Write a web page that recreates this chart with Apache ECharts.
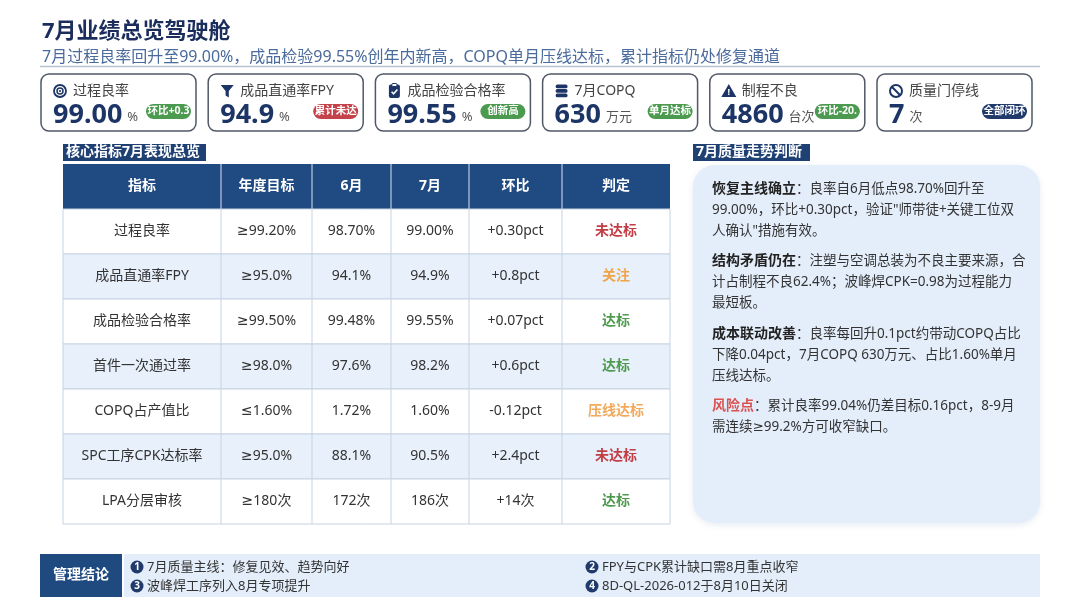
<!DOCTYPE html>
<html lang="zh">
<head>
<meta charset="UTF-8">
<title>7月业绩总览驾驶舱</title>
<script src="https://cdn.jsdelivr.net/npm/echarts@6/dist/echarts.min.js"></script>
<style>
  html, body { margin: 0; padding: 0; background: #fff; }
  #main { width: 1080px; height: 608px; }
</style>
</head>
<body>
<div id="main"></div>
<script type="text/javascript">
// KPI 卡片
var kpiNames = ['过程良率', '成品直通率FPY', '成品检验合格率', '7月COPQ', '制程不良', '质量门停线'];
var kpiValues = ['99.00', '94.9', '99.55', '630', '4860', '7'];
var kpiUnits = ['%', '%', '%', '万元', '台次', '次'];
var kpiBadges = ['环比+0.30pct', '累计未达', '创新高', '单月达标', '环比-20.9%', '全部闭环'];
var kpiBadgeTone = ['good', 'bad', 'good', 'good', 'good', 'done'];

// 核心指标表
var colHeads = ['指标', '年度目标', '6月', '7月', '环比', '判定'];
var metricNames = ['过程良率', '成品直通率FPY', '成品检验合格率', '首件一次通过率', 'COPQ占产值比', 'SPC工序CPK达标率', 'LPA分层审核'];
var targets = ['≥99.20%', '≥95.0%', '≥99.50%', '≥98.0%', '≤1.60%', '≥95.0%', '≥180次'];
var juneVals = ['98.70%', '94.1%', '99.48%', '97.6%', '1.72%', '88.1%', '172次'];
var julyVals = ['99.00%', '94.9%', '99.55%', '98.2%', '1.60%', '90.5%', '186次'];
var momVals = ['+0.30pct', '+0.8pct', '+0.07pct', '+0.6pct', '-0.12pct', '+2.4pct', '+14次'];
var verdicts = ['未达标', '关注', '达标', '达标', '压线达标', '未达标', '达标'];

// 走势判断
var noteHeads = ['恢复主线确立', '结构矛盾仍在', '成本联动改善', '风险点'];
var noteLines = [
  ['：良率自6月低点98.70%回升至', '99.00%，环比+0.30pct，验证"师带徒+关键工位双', '人确认"措施有效。'],
  ['：注塑与空调总装为不良主要来源，合', '计占制程不良62.4%；波峰焊CPK=0.98为过程能力', '最短板。'],
  ['：良率每回升0.1pct约带动COPQ占比', '下降0.04pct，7月COPQ 630万元、占比1.60%单月', '压线达标。'],
  ['：累计良率99.04%仍差目标0.16pct，8-9月', '需连续≥99.2%方可收窄缺口。']
];

// 管理结论
var conclusions = ['7月质量主线：修复见效、趋势向好', 'FPY与CPK累计缺口需8月重点收窄', '波峰焊工序列入8月专项提升', '8D-QL-2026-012于8月10日关闭'];

var FONT = '"Noto Sans", "DejaVu Sans", "Noto Sans CJK SC", sans-serif';
var NAVY = '#1c3566';
var HEAD_BLUE = '#1f4a82';
var toneColor = { good: '#4b9a4f', bad: '#c4434a', done: '#1f3a6b' };
var verdictColor = { '未达标': '#c23d45', '关注': '#f0a448', '达标': '#4f9a4f', '压线达标': '#f2a95c' };

var els = [];

function txt(x, y, s, font, fill, align, extra) {
  var st = { text: s, font: font, fill: fill, align: align || 'left', verticalAlign: 'middle' };
  if (extra) for (var k in extra) st[k] = extra[k];
  els.push({ type: 'text', x: x, y: y, style: st, z: 10 });
}

// 标题
txt(42, 32, '7月业绩总览驾驶舱', 'bold 22px ' + FONT, '#1a2d5c');
txt(42, 57, '7月过程良率回升至99.00%，成品检验99.55%创年内新高，COPQ单月压线达标，累计指标仍处修复通道', '16px ' + FONT, '#4a6b9c');
els.push({ type: 'line', shape: { x1: 40, y1: 66.5, x2: 1040, y2: 66.5 }, style: { stroke: '#b9c3d0', lineWidth: 1.5 } });

// 图标
function drawIcon(i, cx, cy) {
  if (i == 0) {
    els.push({ type: 'circle', shape: { cx: cx, cy: cy, r: 6 }, style: { fill: 'none', stroke: NAVY, lineWidth: 1.8 } });
    els.push({ type: 'circle', shape: { cx: cx, cy: cy, r: 3 }, style: { fill: 'none', stroke: NAVY, lineWidth: 1.5 } });
    els.push({ type: 'circle', shape: { cx: cx, cy: cy, r: 1.1 }, style: { fill: NAVY } });
  } else if (i == 1) {
    els.push({ type: 'polygon', shape: { points: [[cx - 6.5, cy - 6], [cx + 6.5, cy - 6], [cx + 1.6, cy], [cx + 1.6, cy + 6.5], [cx - 1.6, cy + 4.5], [cx - 1.6, cy]] }, style: { fill: NAVY } });
  } else if (i == 2) {
    els.push({ type: 'rect', shape: { x: cx - 5.5, y: cy - 6.5, width: 11, height: 13.5, r: 2 }, style: { fill: NAVY } });
    els.push({ type: 'rect', shape: { x: cx - 2.5, y: cy - 7.5, width: 5, height: 3, r: 1 }, style: { fill: '#fff', stroke: NAVY, lineWidth: 1 } });
    els.push({ type: 'polyline', shape: { points: [[cx - 2.8, cy + 0.8], [cx - 0.8, cy + 2.8], [cx + 3, cy - 1.5]] }, style: { stroke: '#fff', lineWidth: 1.6, fill: 'none' } });
  } else if (i == 3) {
    for (var c = 0; c < 3; c++) {
      els.push({ type: 'rect', shape: { x: cx - 6, y: cy - 6.5 + c * 4.5, width: 12, height: 3.8, r: 1.9 }, style: { fill: NAVY } });
    }
  } else if (i == 4) {
    els.push({ type: 'polygon', shape: { points: [[cx, cy - 7], [cx + 7.5, cy + 6], [cx - 7.5, cy + 6]] }, style: { fill: NAVY } });
    txt(cx, cy + 1.5, '!', 'bold 9px ' + FONT, '#fff', 'center');
  } else {
    els.push({ type: 'circle', shape: { cx: cx, cy: cy, r: 6 }, style: { fill: 'none', stroke: NAVY, lineWidth: 2 } });
    els.push({ type: 'line', shape: { x1: cx - 4.2, y1: cy - 4.2, x2: cx + 4.2, y2: cy + 4.2 }, style: { stroke: NAVY, lineWidth: 2 } });
  }
}

// KPI 卡片
for (var i = 0; i < kpiNames.length; i++) {
  var x0 = 41 + i * 167.2;
  els.push({ type: 'rect', shape: { x: x0, y: 74, width: 155, height: 57, r: 8 }, style: { fill: '#fff', stroke: '#505866', lineWidth: 1.5 } });
  drawIcon(i, x0 + 19, 91);
  txt(x0 + 32, 91, kpiNames[i], '14px ' + FONT, '#444');
  els.push({
    type: 'text', x: x0 + 12, y: 129, z: 10,
    style: {
      text: '{v|' + kpiValues[i] + '}{u|' + kpiUnits[i] + '}',
      align: 'left', verticalAlign: 'bottom',
      rich: {
        v: { font: 'bold 27px ' + FONT, fill: NAVY, verticalAlign: 'bottom', lineHeight: 32 },
        u: { font: '13px ' + FONT, fill: '#555', verticalAlign: 'bottom', padding: [0, 0, 5, 5] }
      }
    }
  });
  var bx = x0 + 105;
  els.push({ type: 'rect', shape: { x: bx, y: 104, width: 45, height: 15, r: 7.5 }, style: { fill: toneColor[kpiBadgeTone[i]] }, z: 11 });
  els.push({
    type: 'text', x: bx + 22.5, y: 111.5, z: 12,
    style: { text: kpiBadges[i], font: 'bold 10.5px ' + FONT, fill: '#fff', align: 'center', verticalAlign: 'middle', width: 43, overflow: 'truncate', ellipsis: '' }
  });
}

// 分区标签
function tag(x, y, w, s) {
  els.push({ type: 'rect', shape: { x: x, y: y, width: w, height: 17 }, style: { fill: '#1f4073' } });
  txt(x + 3, y + 8.5, s, 'bold 14px ' + FONT, '#fff');
}
tag(63, 144, 143, '核心指标7月表现总览');
tag(693, 144, 117, '7月质量走势判断');

// 表格
var colX = [63, 221, 312, 391, 469, 562, 670];
var headTop = 164, headH = 45, rowH = 45;
els.push({ type: 'rect', shape: { x: colX[0], y: headTop, width: colX[6] - colX[0], height: headH }, style: { fill: HEAD_BLUE } });
for (var c = 0; c < colHeads.length; c++) {
  txt((colX[c] + colX[c + 1]) / 2, headTop + headH / 2, colHeads[c], 'bold 14px ' + FONT, '#fff', 'center');
  if (c > 0) els.push({ type: 'line', shape: { x1: colX[c], y1: headTop, x2: colX[c], y2: headTop + headH }, style: { stroke: '#d7e1ee', lineWidth: 1 } });
}
for (var r = 0; r < metricNames.length; r++) {
  var ry = headTop + headH + r * rowH;
  els.push({ type: 'rect', shape: { x: colX[0], y: ry, width: colX[6] - colX[0], height: rowH }, style: { fill: r % 2 ? '#e7f0fb' : '#fff', stroke: '#c7d3e3', lineWidth: 1 } });
  var cells = [metricNames[r], targets[r], juneVals[r], julyVals[r], momVals[r], verdicts[r]];
  for (var c = 0; c < cells.length; c++) {
    if (c > 0) els.push({ type: 'line', shape: { x1: colX[c], y1: ry, x2: colX[c], y2: ry + rowH }, style: { stroke: '#c7d3e3', lineWidth: 1 }, z: 5 });
    var isV = c == 5;
    txt((colX[c] + colX[c + 1]) / 2, ry + rowH / 2, cells[c], (isV ? 'bold ' : '') + '14px ' + FONT, isV ? verdictColor[cells[c]] : '#333', 'center');
  }
}

// 走势判断面板
els.push({ type: 'rect', shape: { x: 693, y: 165, width: 347, height: 358, r: 22 }, style: { fill: '#e4eefb', shadowBlur: 6, shadowColor: 'rgba(60,90,140,0.12)', shadowOffsetY: 2 } });
for (var p = 0; p < noteHeads.length; p++) {
  var py = 189 + p * 72.5;
  for (var l = 0; l < noteLines[p].length; l++) {
    var s = l == 0 ? '{h|' + noteHeads[p] + '}{b|' + noteLines[p][0] + '}' : '{b|' + noteLines[p][l] + '}';
    els.push({
      type: 'text', x: 712, y: py + l * 21, z: 10,
      style: {
        text: s, align: 'left', verticalAlign: 'middle',
        rich: {
          h: { font: 'bold 14px ' + FONT, fill: p == 3 ? '#d9534f' : '#222' },
          b: { font: '13.5px ' + FONT, fill: '#333' }
        }
      }
    });
  }
}

// 管理结论
els.push({ type: 'rect', shape: { x: 40, y: 554, width: 82, height: 43 }, style: { fill: '#1f4a80' } });
txt(81, 575.5, '管理结论', 'bold 14px ' + FONT, '#fff', 'center');
els.push({ type: 'rect', shape: { x: 124, y: 554, width: 916, height: 43 }, style: { fill: '#e4eefb' } });
for (var k = 0; k < conclusions.length; k++) {
  var cx = k % 2 ? 592 : 137;
  var cy = k < 2 ? 567 : 586;
  els.push({ type: 'circle', shape: { cx: cx, cy: cy, r: 6.5 }, style: { fill: '#1f3a6b' }, z: 10 });
  txt(cx, cy + 0.5, String(k + 1), 'bold 10px ' + FONT, '#fff', 'center');
  txt(cx + 10, cy, conclusions[k], '13px ' + FONT, '#333');
}

var myChart = echarts.init(document.getElementById('main'));
myChart.setOption({
  backgroundColor: '#fff',
  animation: false,
  graphic: { elements: els }
});
</script>
</body>
</html>
